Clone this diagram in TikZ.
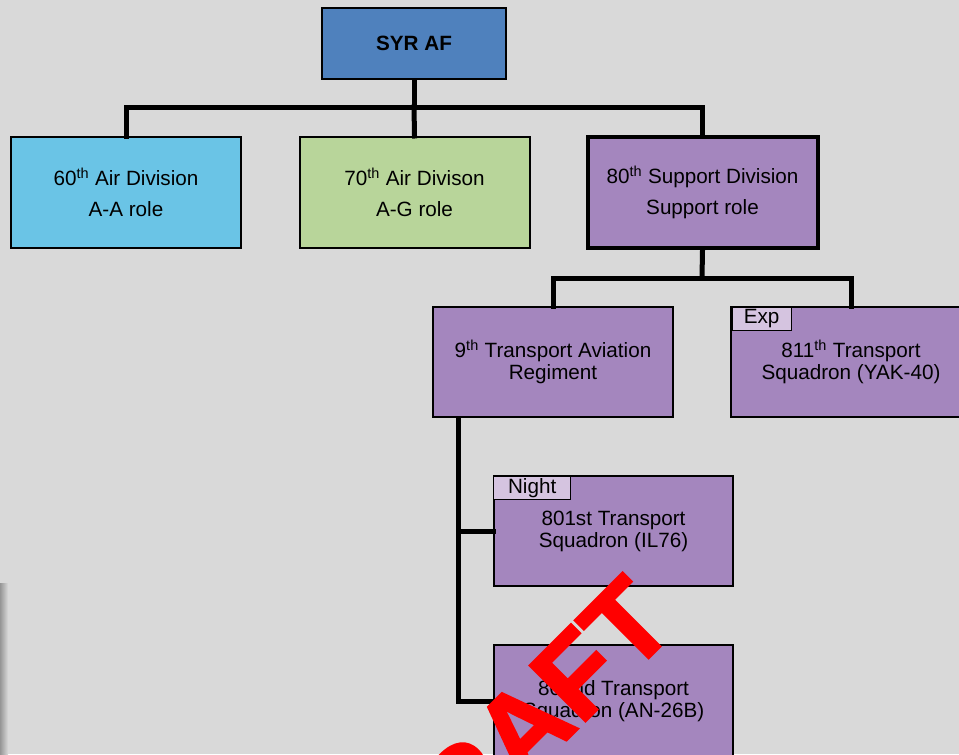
\documentclass[tikz,border=0pt]{standalone}
\usepackage{fontspec}
\setmainfont{Liberation Sans}
\newfontfamily\draftfont[BoldFeatures={FakeBold=2}]{Liberation Sans}
\usepackage{tikz}
\usetikzlibrary{positioning,calc}
\definecolor{bggray}{HTML}{D9D9D9}
\definecolor{hqblue}{HTML}{4F81BD}
\definecolor{aablue}{HTML}{6AC4E6}
\definecolor{aggreen}{HTML}{B8D59A}
\definecolor{suppurple}{HTML}{A486BE}
\definecolor{taglilac}{HTML}{D5C4E0}
\tikzset{unit/.style={rectangle, draw=black, line width=1.5pt, minimum width=180pt, minimum height=82.5pt, inner sep=2pt, align=center, font=\fontsize{15.5}{16.5}\selectfont},
	division/.style={unit, minimum width=172.5pt, minimum height=83.25pt, font=\fontsize{15.5}{23.25}\selectfont},
	tag/.style={rectangle, draw=black, line width=1pt, fill=taglilac, anchor=north west, inner sep=0pt, minimum height=17.5pt, font=\fontsize{15.5}{16.5}\selectfont},
	link/.style={line width=3.75pt, line cap=rect}}

\begin{document}
\begin{tikzpicture}[x=0.75pt,y=-0.75pt]
		\path[clip] (0,0) rectangle (959,754);
		\fill[bggray] (0,0) rectangle (959,754);
		\shade[left color={rgb,255:red,150;green,150;blue,150}, right color=bggray] (0,583) rectangle (8,754);
		% headquarters and divisions
		\node[unit, fill=hqblue, minimum width=138pt, minimum height=53.25pt, font=\fontsize{15.5}{16.5}\selectfont\bfseries] (syr) at (414,43.5) {SYR AF};
		\node[division, fill=aablue] (div60) at (126,192.5) {60\textsuperscript{th} Air Division\\A-A role};
		\node[division, fill=aggreen] (div70) at (414.5,192.5) {70\textsuperscript{th} Air Divison\\A-G role};
		\node[division, fill=suppurple, line width=3pt] (div80) at (702.5,192.5) {80\textsuperscript{th} Support Division\\Support role};
		% support division units
		\node[unit, fill=suppurple] (reg9) at (553,362) {9\textsuperscript{th} Transport Aviation\\Regiment};
		\node[unit, fill=suppurple] (sq811) at (851,362) {811\textsuperscript{th} Transport\\Squadron (YAK-40)};
		\node[unit, fill=suppurple, minimum width=179.25pt] (sq801) at (613.5,531) {801st Transport\\Squadron (IL76)};
		\node[unit, fill=suppurple, minimum width=179.25pt, minimum height=84pt] (sq802) at (613.5,701) {802nd Transport\\Squadron (AN-26B)};
		\node[tag, minimum width=44.25pt] (exp) at ($(sq811.north west)+(1.5,0.5)$) {Exp};
		\node[tag, minimum width=57.75pt] (night) at ($(sq801.north west)+(0,0.5)$) {Night};
		% connectors
		\coordinate (bustop) at (414,107);
		\coordinate (busmid) at (702,278);
		\coordinate (spine) at ($(reg9.south west)+(26,0)$);
		\draw[link] (syr.south) -- (bustop);
		\draw[link] (div60.north) |- (bustop) -| (div80.north);
		\draw[link] (bustop) -- (div70.north);
		\draw[link] (div80.south) -- (busmid);
		\draw[link] (reg9.north) |- (busmid) -| (sq811.north);
		\draw[link] (spine) |- (sq801.west);
		\draw[link] (spine) |- (sq802.west);
		% watermark
		\node[text=red, rotate=45, inner sep=0pt, font=\draftfont\fontsize{86}{86}\selectfont\bfseries] (draft) at (514,737) {DRAFT};
		\end{tikzpicture}
\end{document}
